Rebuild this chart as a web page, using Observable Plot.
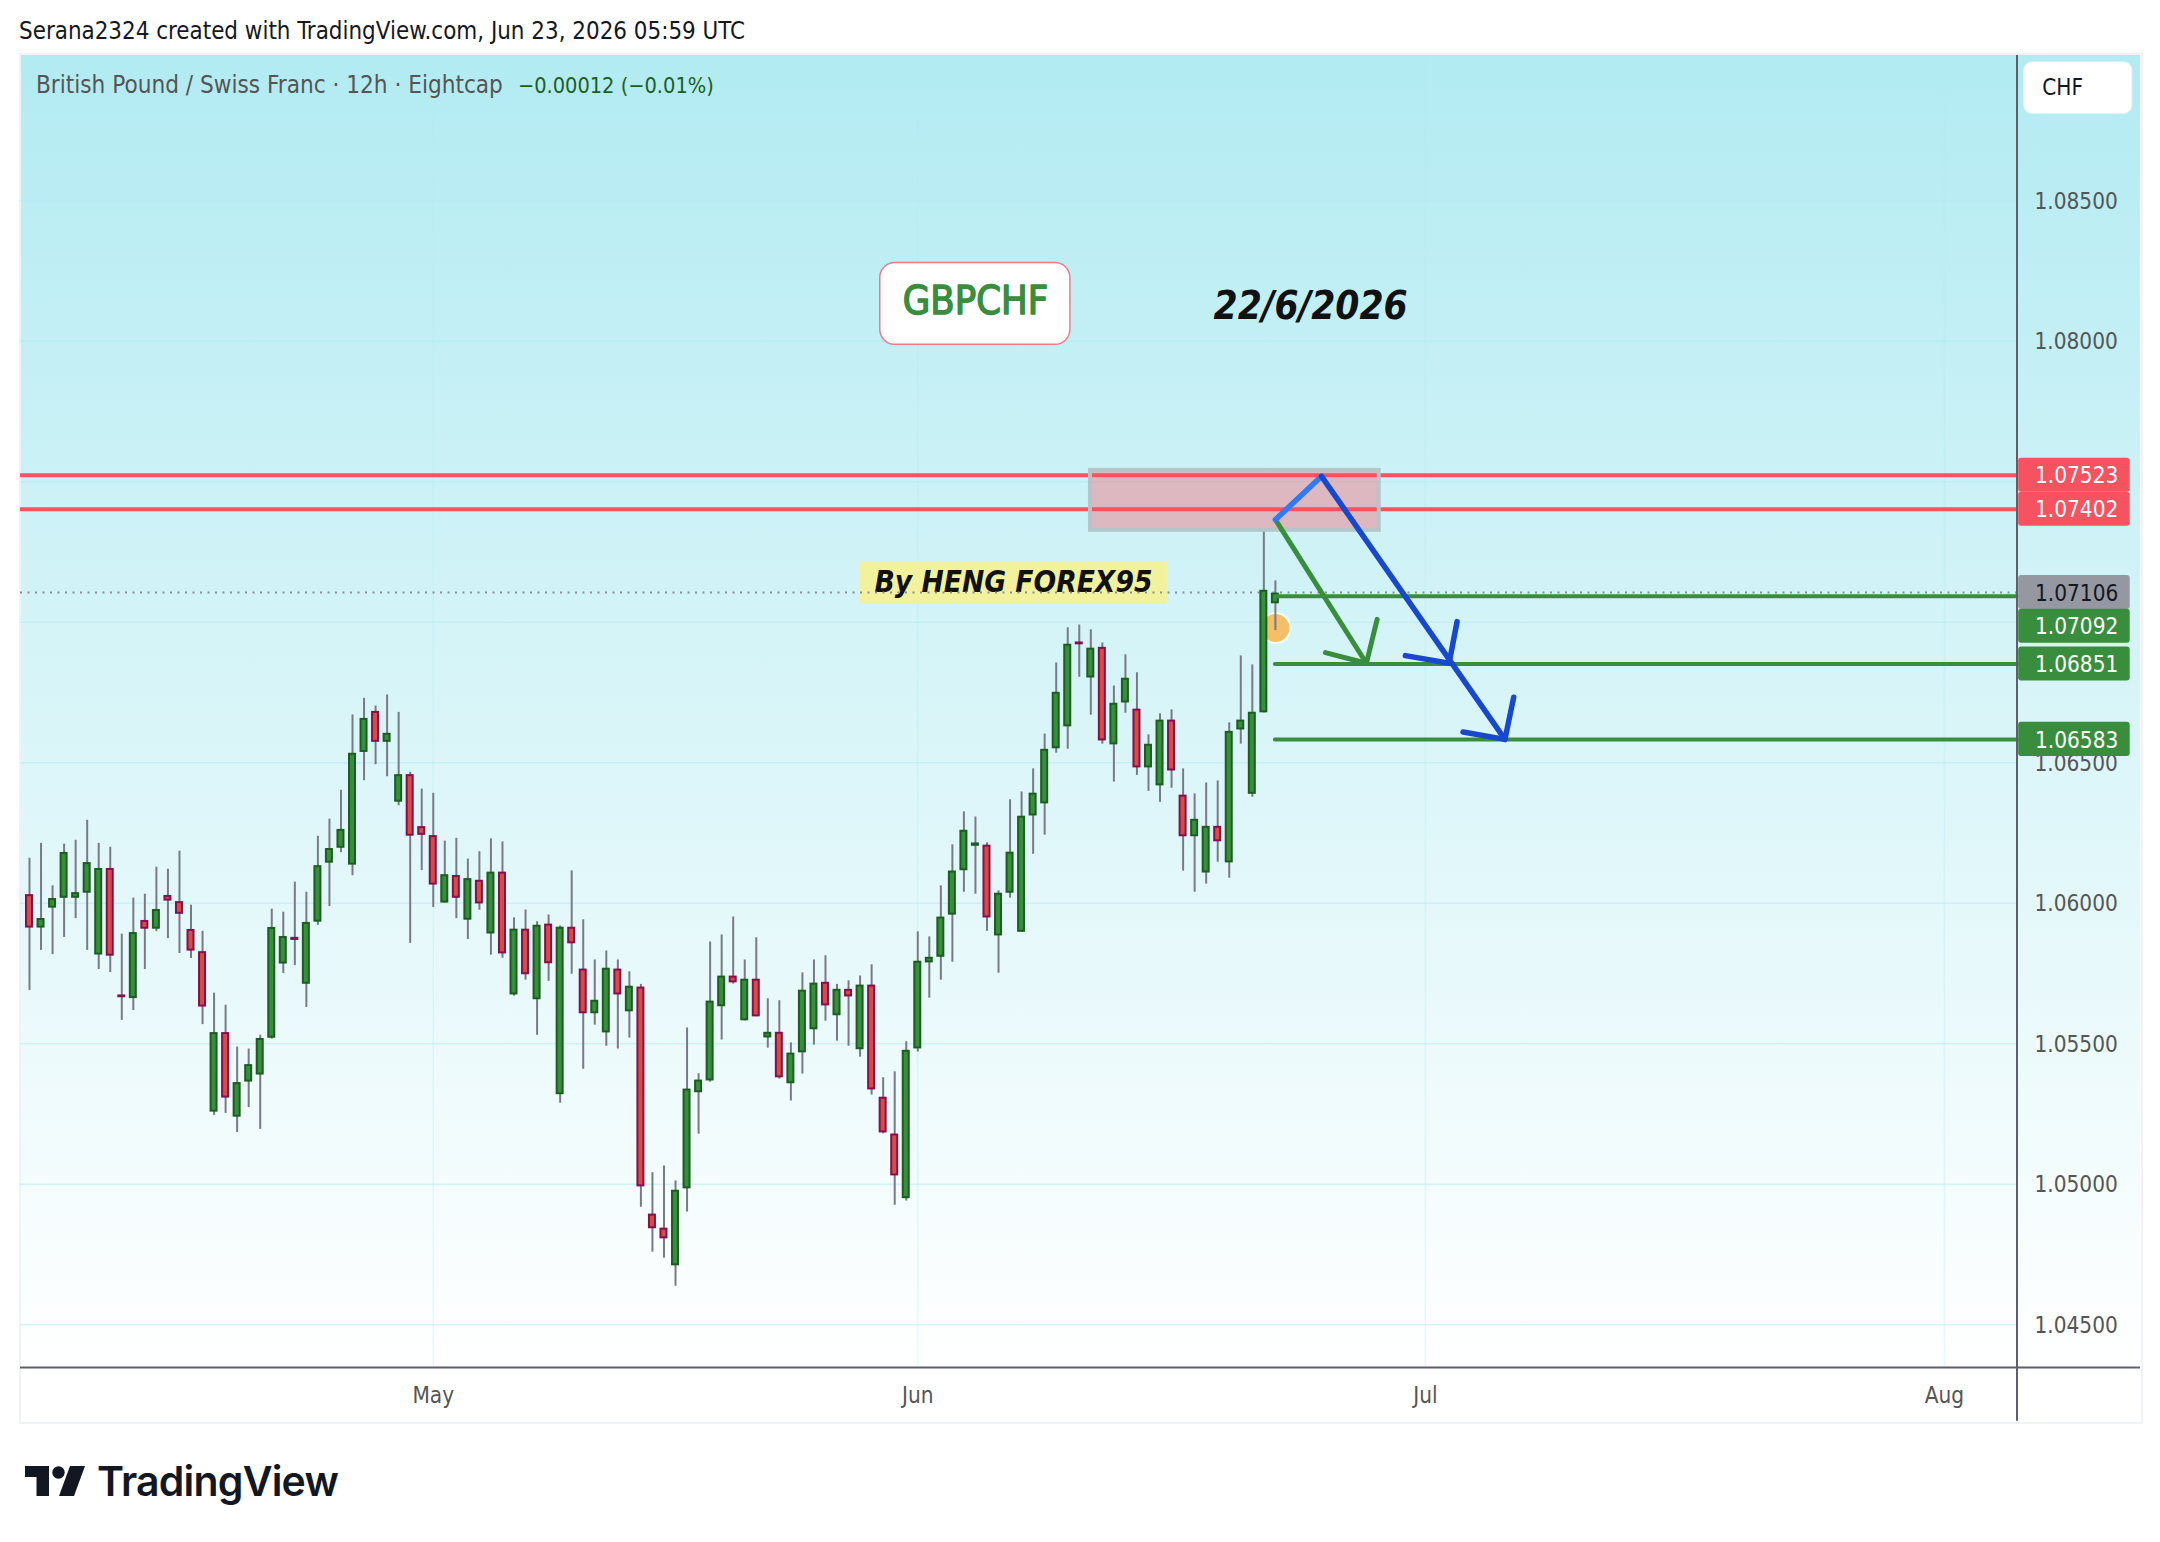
<!DOCTYPE html>
<html>
<head>
<meta charset="utf-8">
<script src="https://cdn.jsdelivr.net/npm/d3@7"></script>
<script src="https://cdn.jsdelivr.net/npm/@observablehq/plot@0.6"></script>
<style>
html,body{margin:0;padding:0;background:#fff;width:2160px;height:1542px;overflow:hidden;font-family:"DejaVu Sans Condensed","DejaVu Sans",sans-serif}
#pane{position:absolute;left:20px;top:54px;width:2120px;height:1313px;background:linear-gradient(#b2ebf2,#ffffff)}
#frame{position:absolute;left:19px;top:53px;width:2120px;height:1367px;border:2px solid #f0f3f6}
#chart{position:absolute;left:0;top:0}
#chart svg{background:transparent;overflow:visible}
#head{position:absolute;left:19px;top:16px;font-size:23.9px;line-height:30px;color:#131722;white-space:nowrap}
#legend{position:absolute;left:36px;top:70px;font-size:24.1px;line-height:30px;color:#555;white-space:nowrap}
#legend span{color:#1b5e20;margin-left:15px;font-size:21.6px}
#logo{position:absolute;left:24px;top:1466px;width:62px;height:30px}
#brand{position:absolute;left:97px;top:1456px;font:600 41px/50px Inter,sans-serif;color:#131722;letter-spacing:-0.8px}
</style>
</head>
<body>
<div id="pane"></div>
<div id="frame"></div>
<div id="chart"></div>
<div id="head">Serana2324 created with TradingView.com, Jun 23, 2026 05:59 UTC</div>
<div id="legend">British Pound / Swiss Franc · 12h · Eightcap<span>−0.00012 (−0.01%)</span></div>
<svg id="logo" viewBox="0 0 60 30"><path fill="#131722" d="M0 0H24V30H11.500V11H0Z"/><circle cx="33.500" cy="6.500" r="6.200" fill="#131722"/><path fill="#131722" d="M45 0H60L49 30H34Z"/></svg>
<div id="brand">TradingView</div>
<script>
const open = [
1.06027,1.05915,1.05986,1.06021,1.06021,1.06039,1.05819,1.06120,1.05670,1.05664,
1.05935,1.05911,1.06024,1.06002,1.05903,1.05824,1.05260,1.05536,1.05242,1.05367,
1.05392,1.05523,1.05787,1.05875,1.05715,1.05936,1.06146,1.06199,1.06139,1.06540,
1.06679,1.06576,1.06363,1.06454,1.06269,1.06237,1.06004,1.06095,1.05943,1.06078,
1.05894,1.06107,1.05677,1.05904,1.05660,1.05922,1.05322,1.05911,1.05762,1.05610,
1.05542,1.05762,1.05617,1.05698,1.04890,1.04840,1.04713,1.04987,1.05329,1.05371,
1.05635,1.05737,1.05585,1.05726,1.05524,1.05537,1.05361,1.05471,1.05553,1.05715,
1.05603,1.05690,1.05482,1.05705,1.05306,1.05175,1.04952,1.05485,1.05791,1.05811,
1.05961,1.06119,1.06206,1.06203,1.05887,1.06039,1.05900,1.06314,1.06357,1.06553,
1.06631,1.06926,1.06805,1.06907,1.06567,1.06716,1.06687,1.06485,1.06421,1.06648,
1.06381,1.06240,1.06111,1.06270,1.06147,1.06620,1.06391,1.06681,1.07069];
const high = [
1.06160,1.06213,1.06062,1.06210,1.06224,1.06295,1.06213,1.06199,1.05890,1.06018,
1.06032,1.06128,1.06121,1.06185,1.05993,1.05900,1.05680,1.05637,1.05488,1.05481,
1.05530,1.05979,1.05968,1.06075,1.06039,1.06238,1.06299,1.06402,1.06670,1.06729,
1.06702,1.06741,1.06679,1.06466,1.06406,1.06391,1.06221,1.06231,1.06157,1.06183,
1.06229,1.06218,1.05948,1.05976,1.05934,1.05958,1.05919,1.06115,1.05941,1.05798,
1.05830,1.05798,1.05756,1.05711,1.05041,1.05065,1.05012,1.05556,1.05393,1.05862,
1.05887,1.05951,1.05798,1.05877,1.05660,1.05653,1.05503,1.05752,1.05798,1.05813,
1.05711,1.05724,1.05741,1.05781,1.05379,1.05400,1.05507,1.05898,1.05880,1.06062,
1.06208,1.06325,1.06307,1.06215,1.06044,1.06368,1.06396,1.06478,1.06602,1.06855,
1.06980,1.06990,1.06973,1.06926,1.06773,1.06884,1.06820,1.06599,1.06674,1.06688,
1.06478,1.06389,1.06428,1.06435,1.06642,1.06880,1.06848,1.07332,1.07147];
const low = [
1.05689,1.05832,1.05817,1.05878,1.05945,1.05832,1.05764,1.05753,1.05583,1.05618,
1.05764,1.05899,1.05874,1.05821,1.05803,1.05568,1.05245,1.05252,1.05184,1.05273,
1.05195,1.05516,1.05750,1.05778,1.05629,1.05921,1.05988,1.06180,1.06098,1.06436,
1.06493,1.06450,1.06347,1.05857,1.06116,1.05985,1.06000,1.05945,1.05871,1.05975,
1.05815,1.05804,1.05669,1.05726,1.05530,1.05722,1.05288,1.05747,1.05409,1.05566,
1.05491,1.05481,1.05520,1.04918,1.04758,1.04737,1.04637,1.04901,1.05178,1.05363,
1.05513,1.05712,1.05581,1.05596,1.05484,1.05374,1.05296,1.05392,1.05495,1.05580,
1.05509,1.05491,1.05452,1.05317,1.05179,1.04925,1.04940,1.05470,1.05662,1.05726,
1.05790,1.06039,1.06032,1.05900,1.05751,1.06018,1.05897,1.06174,1.06242,1.06534,
1.06548,1.06804,1.06669,1.06566,1.06431,1.06676,1.06455,1.06398,1.06359,1.06409,
1.06114,1.06039,1.06068,1.06146,1.06089,1.06566,1.06377,1.06677,1.06970];
const close = [
1.05915,1.05942,1.06013,1.06177,1.06034,1.06141,1.06120,1.05815,1.05667,1.05892,
1.05911,1.05974,1.06011,1.05964,1.05833,1.05634,1.05536,1.05310,1.05358,1.05422,
1.05515,1.05910,1.05878,1.05871,1.05928,1.06130,1.06191,1.06259,1.06530,1.06654,
1.06576,1.06601,1.06454,1.06242,1.06245,1.06068,1.06098,1.06021,1.06084,1.06001,
1.06107,1.05823,1.05904,1.05749,1.05918,1.05788,1.05911,1.05859,1.05610,1.05651,
1.05765,1.05677,1.05701,1.04994,1.04845,1.04809,1.04975,1.05335,1.05367,1.05648,
1.05737,1.05720,1.05726,1.05599,1.05537,1.05382,1.05463,1.05687,1.05712,1.05638,
1.05690,1.05670,1.05705,1.05339,1.05186,1.05033,1.05473,1.05790,1.05804,1.05947,
1.06111,1.06256,1.06211,1.05951,1.06032,1.06178,1.06306,1.06388,1.06544,1.06747,
1.06918,1.06923,1.06904,1.06581,1.06708,1.06797,1.06485,1.06562,1.06648,1.06474,
1.06240,1.06295,1.06270,1.06222,1.06608,1.06648,1.06676,1.07110,1.07100];

const priceTicks = [1.045,1.05,1.055,1.06,1.065,1.07,1.075,1.08,1.085];
const axisLabels = [1.045,1.05,1.055,1.06,1.065,1.08,1.085];
const monthBars = [35,77,121,166];
const monthNames = ["May","Jun","Jul","Aug"];

const resistance = [1.07523,1.07402];
const targets = [1.07092,1.06851,1.06583];
const lastPrice = 1.07106;

const tagValues = [1.07523,1.07402,1.07106,1.07092,1.06851,1.06583];
const tagPlaces = [1.07523,1.07402,1.07106,1.06986,1.06851,1.06583];
const tagFills  = ["#f7525f","#f7525f","#9598a1","#388e3c","#388e3c","#388e3c"];
const tagInks   = ["#fff","#fff","#131722","#fff","#fff","#fff"];

const X0 = -0.78, X1 = 172.33, YB = 1.043477, YT = 1.090167;
const bars = open.map((o,i)=>({i,o,h:high[i],l:low[i],c:close[i]}));
const seg = (xs,ys,stroke,w)=>Plot.line(xs,{x:xs,y:ys,stroke,strokeWidth:w,strokeLinecap:"round",strokeLinejoin:"round"});
const box = (x1,x2,y1,y2,o)=>Plot.rect([0],{x1,x2,y1,y2,...o});
const FONT = '"DejaVu Sans Condensed","DejaVu Sans",sans-serif';

const upCandles = bars.filter(b=>b.c>=b.o), downCandles = bars.filter(b=>b.c<b.o);
const candle = (data,fill,stroke)=>Plot.rect(data,{x1:d=>d.i-0.26,x2:d=>d.i+0.26,y1:"o",y2:"c",fill,stroke,strokeWidth:2});

const chart = Plot.plot({
  width:2160,height:1542,marginLeft:20,marginRight:143,marginTop:55,marginBottom:175,
  style:{background:"transparent",fontFamily:FONT},
  x:{type:"linear",domain:[X0,X1],axis:null},
  y:{type:"linear",domain:[YB,YT],axis:null},
  marks:[
    Plot.gridY(priceTicks,{stroke:"#b2ebf2",strokeOpacity:0.55,strokeWidth:1.6}),
    Plot.gridX(monthBars,{stroke:"#b2ebf2",strokeOpacity:0.3,strokeWidth:1.6}),
    Plot.axisY(axisLabels,{anchor:"right",label:null,tickSize:0,tickPadding:17,dy:1,fontSize:22.4,fill:"#555",tickFormat:d=>d.toFixed(5)}),
    Plot.axisX(monthBars,{anchor:"bottom",label:null,tickSize:0,tickPadding:20,fontSize:22.4,fill:"#555",tickFormat:(d)=>monthNames[monthBars.indexOf(d)]}),

    box(73.75,90.23,1.07987,1.08278,{fill:"#fff",stroke:"#f7525f",strokeOpacity:0.75,strokeWidth:1.5,rx:15}),
    Plot.text(["GBPCHF"],{x:82,y:1.0814,text:d=>d,fontSize:39.5,fontWeight:400,stroke:"#388e3c",strokeWidth:1.4,fill:"#388e3c",fontFamily:FONT}),
    Plot.text(["22/6/2026"],{x:111.05,y:1.08122,text:d=>d,fontSize:38.5,fontWeight:700,fontStyle:"italic",fill:"#111",fontFamily:FONT}),

    box(71.94,98.64,1.07065,1.07214,{fill:"#f2f29e"}),
    Plot.text(["By HENG FOREX95"],{x:85.3,y:1.07141,text:d=>d,fontSize:29.6,fontWeight:700,fontStyle:"italic",fill:"#111",fontFamily:FONT}),
    Plot.ruleY([lastPrice],{x1:X0,x2:X1,stroke:"#8a8d97",strokeWidth:2,strokeDasharray:"2 5.5"}),

    Plot.dot([0],{x:108,y:1.06979,r:15,fill:"#f4bf66",stroke:"#fff",strokeWidth:2}),

    Plot.ruleX(bars,{x:"i",y1:"l",y2:"h",stroke:"#787b86",strokeWidth:2}),
    candle(upCandles,"#388e3c","#1b5e20"),
    candle(downCandles,"#d44f42","#880e4f"),

    box(91.97,117,1.07327,1.0754,{fill:"rgb(246,106,117)",fillOpacity:0.42}),
    Plot.ruleY(resistance,{x1:X0,x2:X1,stroke:"#f7525f",strokeWidth:4}),
    box(91.97,117,1.07327,1.0754,{fill:"none",stroke:"#b5c5c8",strokeWidth:4}),
    Plot.ruleY(targets,{x1:108,x2:X1,stroke:"#388e3c",strokeWidth:4,strokeLinecap:"round"}),

    seg([108,115.89],[1.07365,1.06854],"#388e3c",5),
    seg([112.34,115.89,116.82],[1.06892,1.06854,1.0701],"#388e3c",5),
    seg([108,112],[1.07365,1.07519],"#3179f5",5.5),
    seg([112,127.9],[1.07519,1.06583],"#1848cc",5.5),
    seg([119.27,123.06,123.75],[1.06881,1.06854,1.07002],"#1848cc",5.5),
    seg([124.27,127.9,128.66],[1.06609,1.06583,1.06733],"#1848cc",5.5),

    Plot.ruleY([YB],{x1:X0,x2:183,stroke:"#5d606b",strokeWidth:2}),
    Plot.ruleX([X1],{y1:1.04156,y2:YT,dx:-0.5,stroke:"#5d606b",strokeWidth:2}),

    box(172.92,182.28,1.08809,1.08992,{fill:"#fff",stroke:"#f0f3f6",strokeWidth:1,rx:8}),
    Plot.text(["CHF"],{x:174.48,y:1.08902,text:d=>d,textAnchor:"start",fontSize:22.4,fill:"#131722",fontFamily:FONT}),

    Plot.rect(tagValues,{x1:X1+0.1,x2:182.1,y1:(d,i)=>tagPlaces[i]-0.000605,y2:(d,i)=>tagPlaces[i]+0.000605,fill:(d,i)=>tagFills[i],rx:3}),
    Plot.text(tagValues,{x:173.85,y:(d,i)=>tagPlaces[i],dy:1,text:d=>d.toFixed(5),textAnchor:"start",fontSize:22.4,fill:(d,i)=>tagInks[i],fontFamily:FONT})
  ]
});
document.getElementById("chart").appendChild(chart);
</script>
</body>
</html>
